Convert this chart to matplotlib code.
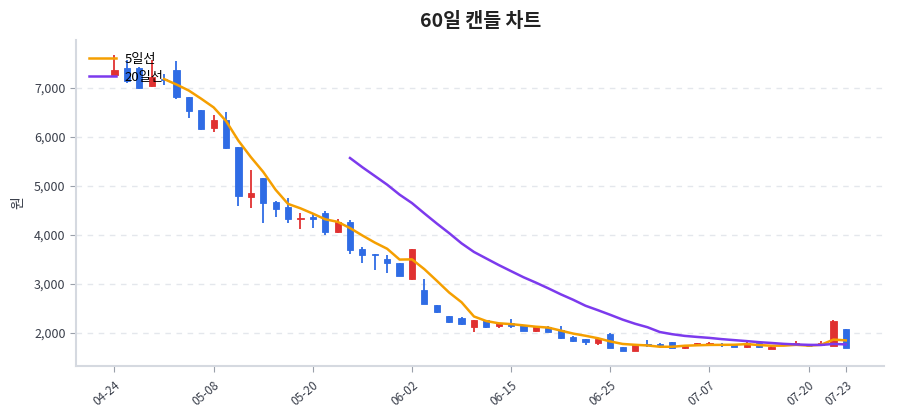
"""
60-day candle chart with 5/20 day moving averages
"""

import numpy as np
import pandas as pd
import matplotlib
matplotlib.use("Agg")
import matplotlib.pyplot as plt
from matplotlib.ticker import FuncFormatter

# trading dates (MM-DD)
dates = ["04-24", "04-25", "04-28", "04-29", "04-30", "05-02", "05-06", "05-07",
         "05-08", "05-09", "05-12", "05-13", "05-14", "05-15", "05-16", "05-19",
         "05-20", "05-21", "05-22", "05-23", "05-26", "05-27", "05-28", "05-29",
         "06-02", "06-04", "06-05", "06-09", "06-10", "06-11", "06-12", "06-13",
         "06-15", "06-16", "06-17", "06-18", "06-19", "06-20", "06-23", "06-24",
         "06-25", "06-26", "06-27", "06-30", "07-01", "07-02", "07-03", "07-04",
         "07-07", "07-08", "07-09", "07-10", "07-11", "07-14", "07-15", "07-16",
         "07-20", "07-21", "07-22", "07-23"]

opens = [7265, 7400, 7400, 7030, 7180, 7370, 6810, 6545, 6180, 6350,
         5790, 4780, 5160, 4680, 4580, 4330, 4375, 4455, 4055, 4270,
         3715, 3610, 3505, 3420, 3100, 2880, 2570, 2345, 2310, 2130,
         2265, 2145, 2195, 2160, 2050, 2115, 2060, 1925, 1870, 1805,
         1980, 1710, 1640, 1775, 1775, 1810, 1700, 1755, 1760, 1775,
         1770, 1705, 1805, 1675, 1780, 1760, 1730, 1745, 1735, 2075]
highs = [7670, 7560, 7420, 7560, 7280, 7540, 6810, 6550, 6450, 6500,
         5790, 5330, 5160, 4700, 4760, 4440, 4430, 4480, 4320, 4305,
         3760, 3615, 3585, 3420, 3720, 3100, 2580, 2350, 2320, 2270,
         2270, 2200, 2280, 2165, 2135, 2150, 2150, 1930, 1875, 1885,
         1990, 1710, 1760, 1855, 1800, 1815, 1745, 1805, 1810, 1790,
         1780, 1820, 1810, 1730, 1800, 1830, 1735, 1830, 2255, 2080]
lows = [7260, 7100, 6970, 7020, 7050, 6775, 6380, 6140, 6110, 5750,
        4600, 4545, 4240, 4370, 4240, 4115, 4135, 4000, 4050, 3610,
        3420, 3285, 3230, 3160, 3080, 2590, 2410, 2210, 2170, 2030,
        2110, 2095, 2095, 2045, 2010, 2025, 1885, 1810, 1755, 1755,
        1690, 1630, 1635, 1710, 1735, 1700, 1665, 1750, 1755, 1710,
        1705, 1700, 1700, 1665, 1750, 1755, 1720, 1740, 1730, 1685]
closes = [7367, 7150, 7000, 7230, 7160, 6810, 6530, 6165, 6350, 5770,
          4800, 4860, 4650, 4530, 4330, 4350, 4320, 4070, 4270, 3695,
          3590, 3600, 3435, 3170, 3715, 2590, 2420, 2230, 2180, 2265,
          2120, 2195, 2145, 2050, 2130, 2030, 1890, 1840, 1825, 1880,
          1700, 1635, 1755, 1755, 1750, 1700, 1740, 1800, 1790, 1760,
          1710, 1805, 1705, 1720, 1770, 1790, 1725, 1790, 2250, 1690]

yticks = [2000, 3000, 4000, 5000, 6000, 7000]

UP = "#e03131"
DOWN = "#2f6ce5"
MA5_COLOR = "#f59f00"
MA20_COLOR = "#7c3aed"
TEXT = "#3a3f4b"
SPINE = "#d5d9e0"


def main():
    plt.rcParams['font.family'] = ['Noto Sans CJK KR', 'DejaVu Sans']

    df = pd.DataFrame({"open": opens, "high": highs, "low": lows, "close": closes})
    df["ma5"] = df["close"].rolling(5).mean()
    df["ma20"] = df["close"].rolling(20).mean()
    x = np.arange(len(df))

    fig = plt.figure(figsize=(9, 4.2), dpi=100)
    ax = fig.add_axes([0.0845, 0.129, 0.898, 0.776])

    # candles
    up = df["close"] >= df["open"]
    colors = np.where(up, UP, DOWN)
    ax.vlines(x, df["low"], df["high"], colors=colors, linewidth=1.3, zorder=2)
    body_low = np.minimum(df["open"], df["close"])
    body_h = np.maximum(np.abs(df["close"] - df["open"]), 12)
    ax.bar(x, body_h, bottom=body_low, width=0.5, color=colors,
           edgecolor=colors, linewidth=0.6, zorder=3)

    # moving averages
    ax.plot(x, df["ma5"], color=MA5_COLOR, linewidth=1.8, label="5일선", zorder=4)
    ax.plot(x, df["ma20"], color=MA20_COLOR, linewidth=1.8, label="20일선", zorder=4)

    ax.set_xlim(-3.1, 62.1)
    ax.set_ylim(1330, 7980)

    tick_idx = list(range(0, len(dates), 8)) + [len(dates) - 1]
    ax.set_xticks(tick_idx)
    ax.set_xticklabels([dates[i] for i in tick_idx], rotation=40, ha="right",
                       rotation_mode="anchor", fontsize=8.5, color=TEXT)
    ax.set_yticks(yticks)
    ax.yaxis.set_major_formatter(FuncFormatter(lambda v, p: "{:,.0f}".format(v)))
    ax.tick_params(axis="y", labelsize=9, colors=TEXT, length=4, color="#9aa0aa")
    ax.tick_params(axis="x", length=4, color="#9aa0aa", pad=5)

    ax.grid(axis="y", linestyle=(0, (4, 4)), color="#e4e7ec", linewidth=1)
    ax.set_axisbelow(True)
    for side in ["top", "right"]:
        ax.spines[side].set_visible(False)
    for side in ["left", "bottom"]:
        ax.spines[side].set_color(SPINE)
        ax.spines[side].set_linewidth(1.5)

    ax.set_ylabel("원", fontsize=10, color=TEXT, labelpad=6)
    ax.set_title("60일 캔들 차트", fontsize=14, fontweight="bold", color="#222",
                 pad=9)

    ax.legend(loc="upper left", frameon=False, fontsize=9.5, handlelength=2.0,
              borderaxespad=0.6, labelspacing=0.35, handletextpad=0.7)

    plt.savefig("out.png", dpi=100)


if __name__ == "__main__":
    main()
